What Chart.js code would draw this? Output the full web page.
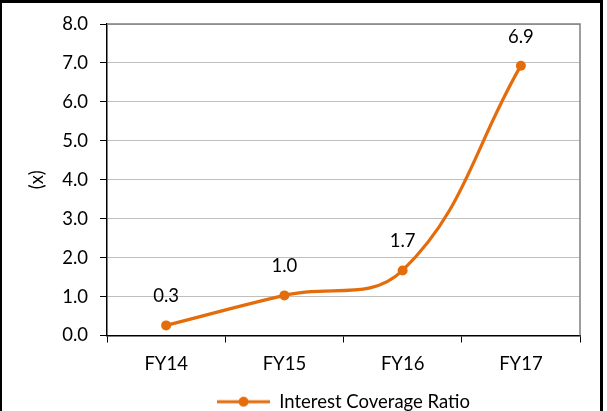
<!DOCTYPE html>
<html>
<head>
<meta charset="utf-8">
<title>Interest Coverage Ratio</title>
<script src="https://cdn.jsdelivr.net/npm/chart.js@4.4.0/dist/chart.umd.min.js"></script>
<style>
    body { margin: 0; background: #fff; }
    .frame {
        position: absolute;
        left: 0;
        top: 0;
        width: 598px;
        height: 500px;
        border-left: 2px solid #000;
        border-top: 3px solid #000;
        border-right: 3px solid #000;
    }
    #chart { position: absolute; left: 0; top: 0; }
</style>
</head>
<body>
<div class="frame"></div>
<canvas id="chart" width="607" height="411"></canvas>
<script>
// Chart data
const categories = ['FY14', 'FY15', 'FY16', 'FY17'];
const coverageRatio = [0.26, 1.03, 1.67, 6.93];
const yTicks = [0, 1, 2, 3, 4, 5, 6, 7, 8];

const ORANGE = '#E46C0A';
const FONT = 'Lato, "Noto Sans", sans-serif';
const FONT_SIZE = 18.5;

// Legend marker: line with a dot in the middle
function makeLegendMarker() {
    const c = document.createElement('canvas');
    c.width = 53;
    c.height = 12;
    const g = c.getContext('2d');
    g.strokeStyle = ORANGE;
    g.lineWidth = 3;
    g.beginPath();
    g.moveTo(0, 6);
    g.lineTo(53, 6);
    g.stroke();
    g.fillStyle = ORANGE;
    g.beginPath();
    g.arc(26.5, 6, 5, 0, Math.PI * 2);
    g.fill();
    return c;
}

// Value labels above points + gray frame on top/right of the plot
const extrasPlugin = {
    id: 'extras',
    beforeDatasetsDraw(chart) {
        const { ctx, chartArea } = chart;
        ctx.save();
        ctx.strokeStyle = '#7F7F7F';
        ctx.lineWidth = 1.5;
        ctx.beginPath();
        ctx.moveTo(chartArea.left, chartArea.top);
        ctx.lineTo(chartArea.right, chartArea.top);
        ctx.lineTo(chartArea.right, chartArea.bottom);
        ctx.stroke();
        ctx.restore();
    },
    afterDatasetsDraw(chart) {
        const { ctx } = chart;
        const meta = chart.getDatasetMeta(0);
        ctx.save();
        ctx.fillStyle = '#000';
        ctx.font = FONT_SIZE + 'px ' + FONT;
        ctx.textAlign = 'center';
        ctx.textBaseline = 'middle';
        meta.data.forEach((pt, i) => {
            ctx.fillText(coverageRatio[i].toFixed(1), pt.x, pt.y - 29);
        });
        ctx.restore();
    }
};

const marker = makeLegendMarker();

new Chart(document.getElementById('chart'), {
    type: 'line',
    data: {
        labels: categories,
        datasets: [{
            label: 'Interest Coverage Ratio',
            data: coverageRatio,
            borderColor: ORANGE,
            backgroundColor: ORANGE,
            borderWidth: 3.2,
            pointRadius: 5,
            pointBorderWidth: 0,
            pointHoverRadius: 5,
            tension: 0.4,
            fill: false
        }]
    },
    options: {
        responsive: false,
        animation: false,
        devicePixelRatio: 1,
        layout: {
            padding: { left: 26, top: 24, right: 27, bottom: -10 }
        },
        plugins: {
            legend: {
                position: 'bottom',
                fullSize: false,
                labels: {
                    usePointStyle: true,
                    pointStyle: marker,
                    pointStyleWidth: 53,
                    color: '#000',
                    padding: 2,
                    font: { family: FONT, size: FONT_SIZE },
                    generateLabels: () => [{
                        text: 'Interest Coverage Ratio',
                        pointStyle: marker,
                        fillStyle: ORANGE,
                        strokeStyle: ORANGE,
                        lineWidth: 0,
                        datasetIndex: 0
                    }]
                }
            },
            tooltip: { enabled: false }
        },
        scales: {
            x: {
                offset: true,
                afterFit: (scale) => {
                    scale.height = 55;
                },
                grid: {
                    drawOnChartArea: false,
                    offset: true,
                    tickLength: 7,
                    tickColor: '#000'
                },
                border: { color: '#000', width: 1.5 },
                ticks: {
                    color: '#000',
                    padding: 10,
                    font: { family: FONT, size: FONT_SIZE }
                }
            },
            y: {
                min: 0,
                max: 8,
                afterBuildTicks: (scale) => {
                    scale.ticks = yTicks.map(v => ({ value: v }));
                },
                afterFit: (scale) => {
                    scale.width = 107 - 26;
                },
                grid: {
                    color: '#BFBFBF',
                    lineWidth: 1,
                    tickLength: 7,
                    tickColor: '#000'
                },
                border: { color: '#000', width: 1.5 },
                ticks: {
                    color: '#000',
                    padding: 12,
                    font: { family: FONT, size: FONT_SIZE },
                    callback: (v) => Number(v).toFixed(1)
                },
                title: {
                    display: true,
                    text: '(x)',
                    color: '#000',
                    padding: 0,
                    font: { family: FONT, size: FONT_SIZE }
                }
            }
        }
    },
    plugins: [extrasPlugin]
});
</script>
</body>
</html>
